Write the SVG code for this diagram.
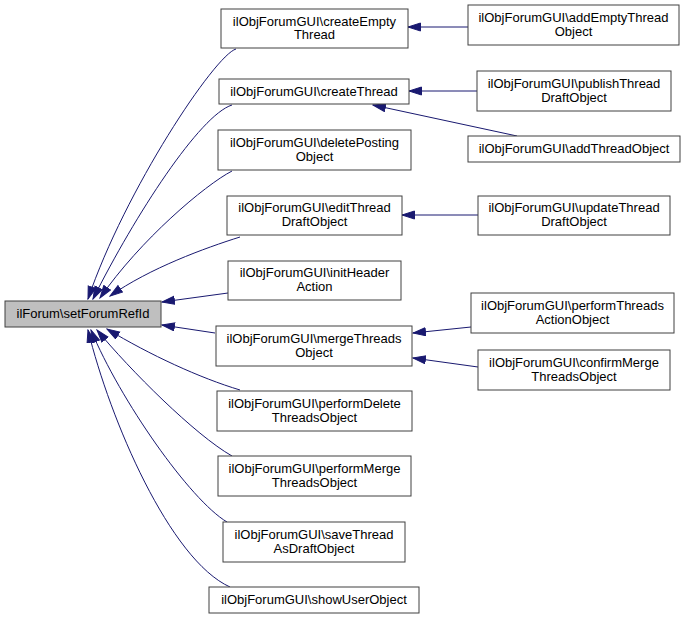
<svg xmlns="http://www.w3.org/2000/svg" width="685" height="619" viewBox="0 0 685 619">
<defs>
<style>
.n rect{fill:#ffffff;stroke:#404040;stroke-width:1}
.n.root rect{fill:#bfbfbf}
.n text{font-family:"Liberation Sans",Arial,sans-serif;font-size:13px;fill:#000;text-anchor:middle}
.e path{fill:none;stroke:#191970;stroke-width:1;marker-end:url(#ah)}
</style>
<marker id="ah" markerUnits="userSpaceOnUse" markerWidth="14" markerHeight="10" refX="13" refY="4.5" orient="auto" viewBox="0 0 14 10">
<path d="M0.5,0.5 L13,4.5 L0.5,8.5 Z" fill="#191970" stroke="#191970" stroke-width="1"/>
</marker>
</defs>
<rect width="685" height="619" fill="#ffffff"/>
<g id="edges" class="e">
<path d="M236,49 C215,55 125,190 88,299"/>
<path d="M232,105 C200,115 135,215 93,299"/>
<path d="M232,171 C205,185 140,240 100,298"/>
<path d="M240,237 C205,248 150,268 110,296"/>
<path d="M228,293 L162,302"/>
<path d="M215,333 L162,325"/>
<path d="M240,390 C200,378 150,355 107,329"/>
<path d="M232,456 C195,435 130,370 97,330"/>
<path d="M227,522 C190,500 120,400 91,330"/>
<path d="M230,587 C170,560 110,420 88,330"/>
<path d="M468,27 L408,27"/>
<path d="M477,91 L409,91"/>
<path d="M517,136 L373,105"/>
<path d="M478,215 L402,215"/>
<path d="M471,327 L413,333"/>
<path d="M478,367 L413,358"/>
</g>
<g id="root" class="n root"><rect x="5" y="301" width="156" height="26"/><text x="83" y="318">ilForum\setForumRefId</text></g>
<g id="createEmptyThread" class="n"><rect x="221" y="9" width="187" height="39"/><text x="314.5" y="25.5">ilObjForumGUI\createEmpty</text><text x="314.5" y="39">Thread</text></g>
<g id="createThread" class="n"><rect x="219" y="79" width="190" height="25"/><text x="314" y="95.5">ilObjForumGUI\createThread</text></g>
<g id="deletePostingObject" class="n"><rect x="218" y="130" width="193" height="40"/><text x="314.5" y="146.5">ilObjForumGUI\deletePosting</text><text x="314.5" y="160.5">Object</text></g>
<g id="editThreadDraftObject" class="n"><rect x="227" y="196" width="175" height="39"/><text x="314.5" y="212">ilObjForumGUI\editThread</text><text x="314.5" y="226">DraftObject</text></g>
<g id="initHeaderAction" class="n"><rect x="228" y="261" width="173" height="39"/><text x="314.5" y="277">ilObjForumGUI\initHeader</text><text x="314.5" y="291">Action</text></g>
<g id="mergeThreadsObject" class="n"><rect x="216" y="326" width="196" height="40"/><text x="314" y="342.5">ilObjForumGUI\mergeThreads</text><text x="314" y="356.5">Object</text></g>
<g id="performDeleteThreadsObject" class="n"><rect x="217" y="391" width="195" height="40"/><text x="314.5" y="407.5">ilObjForumGUI\performDelete</text><text x="314.5" y="421.5">ThreadsObject</text></g>
<g id="performMergeThreadsObject" class="n"><rect x="218" y="456" width="193" height="40"/><text x="314.5" y="472.5">ilObjForumGUI\performMerge</text><text x="314.5" y="486.5">ThreadsObject</text></g>
<g id="saveThreadAsDraftObject" class="n"><rect x="223" y="522" width="182" height="40"/><text x="314" y="538.5">ilObjForumGUI\saveThread</text><text x="314" y="552.5">AsDraftObject</text></g>
<g id="showUserObject" class="n"><rect x="209" y="587" width="210" height="26"/><text x="314" y="604">ilObjForumGUI\showUserObject</text></g>
<g id="addEmptyThreadObject" class="n"><rect x="468" y="5" width="211" height="40"/><text x="573.5" y="21.5">ilObjForumGUI\addEmptyThread</text><text x="573.5" y="35.5">Object</text></g>
<g id="publishThreadDraftObject" class="n"><rect x="477" y="71" width="194" height="40"/><text x="574" y="87.5">ilObjForumGUI\publishThread</text><text x="574" y="101.5">DraftObject</text></g>
<g id="addThreadObject" class="n"><rect x="468" y="136" width="212" height="26"/><text x="574" y="153">ilObjForumGUI\addThreadObject</text></g>
<g id="updateThreadDraftObject" class="n"><rect x="478" y="196" width="192" height="39"/><text x="574" y="212">ilObjForumGUI\updateThread</text><text x="574" y="226">DraftObject</text></g>
<g id="performThreadsActionObject" class="n"><rect x="471" y="293" width="203" height="40"/><text x="572.5" y="309.5">ilObjForumGUI\performThreads</text><text x="572.5" y="323.5">ActionObject</text></g>
<g id="confirmMergeThreadsObject" class="n"><rect x="478" y="350" width="192" height="40"/><text x="574" y="366.5">ilObjForumGUI\confirmMerge</text><text x="574" y="380.5">ThreadsObject</text></g>
</svg>
